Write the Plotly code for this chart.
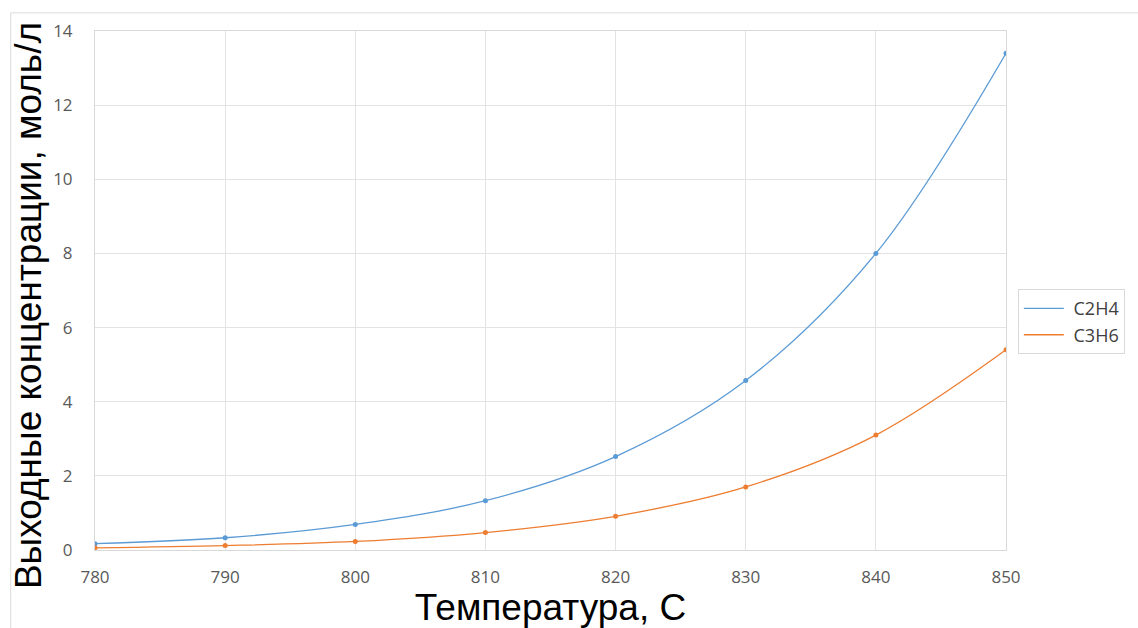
import plotly.graph_objects as go

temperature = [780, 790, 800, 810, 820, 830, 840, 850]
c2h4 = [0.17, 0.33, 0.69, 1.33, 2.52, 4.57, 8.0, 13.4]
c3h6 = [0.06, 0.12, 0.23, 0.47, 0.91, 1.70, 3.10, 5.40]
x_ticks = [780, 790, 800, 810, 820, 830, 840, 850]
y_ticks = [0, 2, 4, 6, 8, 10, 12, 14]
series = [("C2H4", c2h4, "#5b9bd5"), ("C3H6", c3h6, "#ed7d31")]

fig = go.Figure()
for name, vals, col in series:
    fig.add_trace(go.Scatter(x=temperature, y=vals, name=name, mode="lines+markers",
                             showlegend=False,
                             line=dict(color=col, width=1.3, shape="spline", smoothing=1.0),
                             marker=dict(size=5, color=col)))
for name, vals, col in series:
    fig.add_trace(go.Scatter(x=[None], y=[None], name="\u00a0" + name, mode="lines",
                             line=dict(color=col, width=1.3)))

tickfont = dict(family="Open Sans", size=17, color="#595959")
fig.update_layout(
    width=1138, height=628,
    margin=dict(l=95, r=132, t=31, b=78),
    paper_bgcolor="white", plot_bgcolor="white",
    showlegend=True,
    legend=dict(x=1.013, y=0.44, xanchor="left", yanchor="middle",
                bordercolor="#d9d9d9", borderwidth=1,
                font=dict(family="Open Sans", size=18, color="#404040"),
                itemwidth=40, tracegroupgap=0),
    xaxis=dict(range=[780, 850], tickvals=x_ticks, showgrid=True, gridcolor="#e3e3e3",
               zeroline=False, showline=True, linecolor="#d9d9d9", mirror=True,
               tickfont=tickfont, ticks="", ticklabelstandoff=12,
               title=dict(text="Температура, С", font=dict(family="Liberation Sans", size=37, color="black"),
                          standoff=2)),
    yaxis=dict(range=[0, 14], tickvals=y_ticks, showgrid=True, gridcolor="#e3e3e3",
               zeroline=False, showline=True, linecolor="#d9d9d9", mirror=True,
               tickfont=tickfont, ticks="", ticklabelstandoff=18),
    annotations=[
        dict(text="Выходные концентрации, моль/л", xref="paper", yref="paper",
             x=-0.0735, y=0.47, xanchor="center", yanchor="middle", textangle=-90,
             showarrow=False, font=dict(family="Liberation Sans", size=37, color="black")),
    ],
    shapes=[
        dict(type="line", xref="paper", yref="paper", x0=-0.0925, x1=1.15, y0=1.035, y1=1.035,
             line=dict(color="#dcdcdc", width=1)),
        dict(type="line", xref="paper", yref="paper", x0=-0.0925, x1=-0.0925, y0=-0.16, y1=1.035,
             line=dict(color="#dcdcdc", width=1)),
    ],
)
fig.write_html("out.html")
